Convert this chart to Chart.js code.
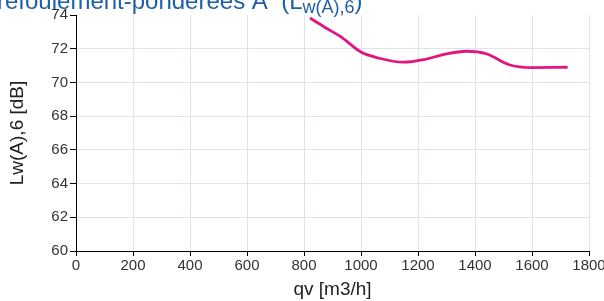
<!DOCTYPE html>
<html>
<head>
<meta charset="utf-8">
<script src="https://cdn.jsdelivr.net/npm/chart.js@4.4.1/dist/chart.umd.min.js"></script>
<style>
  html, body { margin: 0; padding: 0; background: #fff; }
  #wrap { width: 604px; height: 301px; position: relative; }
</style>
</head>
<body>
<div id="wrap"><canvas id="chart" width="604" height="301"></canvas></div>
<script>
// Data
const flow = [821, 880, 930, 1000, 1060, 1150, 1220, 1300, 1370, 1440, 1520, 1600, 1725];
const level = [73.82, 73.2, 72.7, 71.8, 71.45, 71.2, 71.35, 71.7, 71.85, 71.7, 71.05, 70.88, 70.9];
const xTicks = [0, 200, 400, 600, 800, 1000, 1200, 1400, 1600, 1800];
const yTicks = [60, 62, 64, 66, 68, 70, 72, 74];

const titleMain = 'refoulement-pondérées A  (L';
const titleSub = 'w(A),6';
const titleEnd = ')';

const lineColor = '#e4147f';
const gridColor = '#dce4ef';
const fontFamily = 'Liberation Sans, Arial, sans-serif';
const tickFont = { family: fontFamily, size: 15 };

// title is clipped at the top edge of the picture, draw it by hand
const titlePlugin = {
  id: 'clippedTitle',
  afterDraw(chart) {
    const ctx = chart.ctx;
    ctx.save();
    ctx.fillStyle = '#1f5fa6';
    ctx.textBaseline = 'alphabetic';
    ctx.font = '24px ' + fontFamily;
    let x = -3;
    ctx.fillText(titleMain, x, 9);
    x += ctx.measureText(titleMain).width;
    ctx.font = '18px ' + fontFamily;
    ctx.fillText(titleSub, x, 13);
    x += ctx.measureText(titleSub).width;
    ctx.font = '24px ' + fontFamily;
    ctx.fillText(titleEnd, x, 9);
    ctx.restore();
  }
};

new Chart(document.getElementById('chart'), {
  type: 'line',
  data: {
    datasets: [{
      data: flow.map((q, i) => ({ x: q, y: level[i] })),
      borderColor: lineColor,
      borderWidth: 2.8,
      pointRadius: 0,
      cubicInterpolationMode: 'monotone',
      fill: false
    }]
  },
  options: {
    responsive: false,
    animation: false,
    layout: { padding: { top: 15, right: 15, left: 0, bottom: 0 } },
    plugins: { legend: { display: false }, tooltip: { enabled: false } },
    scales: {
      x: {
        type: 'linear',
        min: 0,
        max: 1800,
        afterBuildTicks: s => { s.ticks = xTicks.map(v => ({ value: v })); },
        afterFit: s => { s.height = 50; s.paddingLeft = 0; s.paddingRight = 0; },
        ticks: { color: '#333', font: tickFont, padding: 1, maxRotation: 0, autoSkip: false, callback: v => String(v) },
        grid: {
          color: ctx => ctx.tick && ctx.tick.value === 0 ? 'rgba(0,0,0,0)' : gridColor,
          lineWidth: 1,
          tickColor: '#000',
          tickLength: 5
        },
        border: { color: '#000', width: 1 },
        title: {
          display: true,
          text: 'qv [m3/h]',
          color: '#222',
          font: { family: fontFamily, size: 19 },
          padding: { top: 0, bottom: 0 }
        }
      },
      y: {
        min: 60,
        max: 74,
        afterBuildTicks: s => { s.ticks = yTicks.map(v => ({ value: v })); },
        afterFit: s => { s.width = 76; },
        ticks: { color: '#333', font: tickFont, padding: 2, callback: v => String(v) },
        grid: {
          color: ctx => ctx.tick && (ctx.tick.value === 60 || ctx.tick.value === 74) ? 'rgba(0,0,0,0)' : gridColor,
          lineWidth: 1,
          tickColor: '#000',
          tickLength: 6
        },
        border: { color: '#000', width: 1 },
        title: {
          display: true,
          text: 'Lw(A),6 [dB]',
          color: '#222',
          font: { family: fontFamily, size: 19 },
          padding: { top: 6, bottom: 4 }
        }
      }
    }
  },
  plugins: [titlePlugin]
});
</script>
</body>
</html>
